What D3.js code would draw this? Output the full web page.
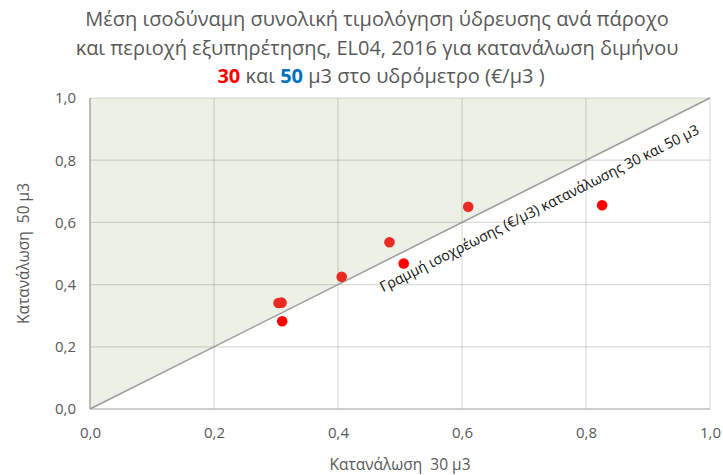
<!DOCTYPE html>
<html><head><meta charset="utf-8">
<script src="https://cdn.jsdelivr.net/npm/d3@7"></script>
<style>body{margin:0;background:#fff}svg{display:block}</style>
</head><body>
<div id="chart"></div>
<script>
const x30 = [0.304, 0.309, 0.310, 0.406, 0.483, 0.506, 0.610, 0.826];
const y50 = [0.341, 0.342, 0.282, 0.425, 0.536, 0.468, 0.650, 0.655];
const tickValues = [0, 0.2, 0.4, 0.6, 0.8, 1.0];
const tickLabels = ["0,0", "0,2", "0,4", "0,6", "0,8", "1,0"];
const titleLines = ["Μέση ισοδύναμη συνολική τιμολόγηση ύδρευσης ανά πάροχο",
                    "και περιοχή εξυπηρέτησης, EL04, 2016 για κατανάλωση διμήνου"];
const titleLine3 = [["30", "#ff0000", "bold"], [" και ", "#595959", "normal"], ["50", "#0070c0", "bold"], [" μ3 στο υδρόμετρο (€/μ3 )", "#595959", "normal"]];
const xTitle = "Κατανάλωση\u00a0 30 μ3";
const yTitle = "Κατανάλωση\u00a0 50 μ3";
const diagLabel = "Γραμμή ισοχρέωσης (€/μ3) κατανάλωσης 30 και 50 μ3";

const W = 723, H = 475;
const m = {left: 90, right: 13, top: 98, bottom: 66};
const font = "'Open Sans', 'Noto Sans', sans-serif";
const svg = d3.select("#chart").append("svg").attr("width", W).attr("height", H)
  .style("font-family", font);

const x = d3.scaleLinear().domain([0, 1]).range([m.left, W - m.right]);
const y = d3.scaleLinear().domain([0, 1]).range([H - m.bottom, m.top]);

// green area above diagonal
svg.append("path")
  .attr("d", d3.line()([[x(0), y(0)], [x(0), y(1)], [x(1), y(1)]]) + "Z")
  .attr("fill", "#ebf1e4");

// gridlines
const grid = svg.append("g");
grid.selectAll(".gx").data(tickValues.slice(1)).join("line")
  .attr("x1", d => x(d)).attr("x2", d => x(d)).attr("y1", y(0)).attr("y2", y(1))
  .attr("stroke", "rgba(0,0,0,0.14)").attr("stroke-width", 1.2);
grid.selectAll(".gy").data(tickValues.slice(1)).join("line")
  .attr("y1", d => y(d)).attr("y2", d => y(d)).attr("x1", x(0)).attr("x2", x(1))
  .attr("stroke", "rgba(0,0,0,0.14)").attr("stroke-width", 1.2);

// axes lines
svg.append("line").attr("x1", x(0)).attr("x2", x(0)).attr("y1", y(0)).attr("y2", y(1))
  .attr("stroke", "#a6a6a6").attr("stroke-width", 1.5);
svg.append("line").attr("x1", x(0)).attr("x2", x(1)).attr("y1", y(0)).attr("y2", y(0))
  .attr("stroke", "#bfbfbf").attr("stroke-width", 1.5);

// diagonal
svg.append("line").attr("x1", x(0)).attr("y1", y(0)).attr("x2", x(1)).attr("y2", y(1))
  .attr("stroke", "#9c9c9c").attr("stroke-width", 1.5);

// tick labels
const xAxis = d3.axisBottom(x).tickValues(tickValues).tickSize(0).tickPadding(18)
  .tickFormat((d, i) => tickLabels[i]);
const gx = svg.append("g").attr("transform", `translate(0,${y(0)})`).call(xAxis);
const yAxis = d3.axisLeft(y).tickValues(tickValues).tickSize(0).tickPadding(14)
  .tickFormat((d, i) => tickLabels[i]);
const gy = svg.append("g").attr("transform", `translate(${x(0)},0)`).call(yAxis);
[gx, gy].forEach(g => {
  g.select(".domain").remove();
  g.selectAll("text").attr("fill", "#595959").style("font-size", "15px").style("font-family", font);
});

// points
svg.append("g").selectAll("circle").data(x30.map((v, i) => [v, y50[i]])).join("circle")
  .attr("cx", d => x(d[0])).attr("cy", d => y(d[1])).attr("r", 5.3)
  .attr("fill", d => d[1] > d[0] ? "#ec2a24" : "#ff0000");

// diagonal label
const ang = Math.atan2(y(0) - y(1), x(1) - x(0)) * 180 / Math.PI;
const t0 = 0.453;
svg.append("text")
  .attr("transform", `translate(${x(t0)},${y(t0)}) rotate(${-ang})`)
  .attr("x", 0).attr("y", 27)
  .attr("textLength", 355).attr("lengthAdjust", "spacingAndGlyphs")
  .attr("fill", "#111").style("font-size", "14.5px").text(diagLabel);

// title
const tcx = 377;
titleLines.forEach((t, i) => {
  svg.append("text").attr("x", tcx).attr("y", 26 + i * 29).attr("text-anchor", "middle")
    .attr("fill", "#595959").style("font-size", "20px").text(t);
});
const t3 = svg.append("text").attr("x", tcx + 4).attr("y", 83).attr("text-anchor", "middle")
  .style("font-size", "20px");
titleLine3.forEach(s => t3.append("tspan").attr("fill", s[1]).attr("font-weight", s[2]).text(s[0]));

// axis titles
svg.append("text").attr("x", x(0.5)).attr("y", 470).attr("text-anchor", "middle")
  .attr("fill", "#595959").style("font-size", "15.5px").text(xTitle);
svg.append("text").attr("transform", `translate(29,${y(0.5)}) rotate(-90)`)
  .attr("text-anchor", "middle").attr("fill", "#595959").style("font-size", "15.5px").text(yTitle);
</script>
</body></html>
